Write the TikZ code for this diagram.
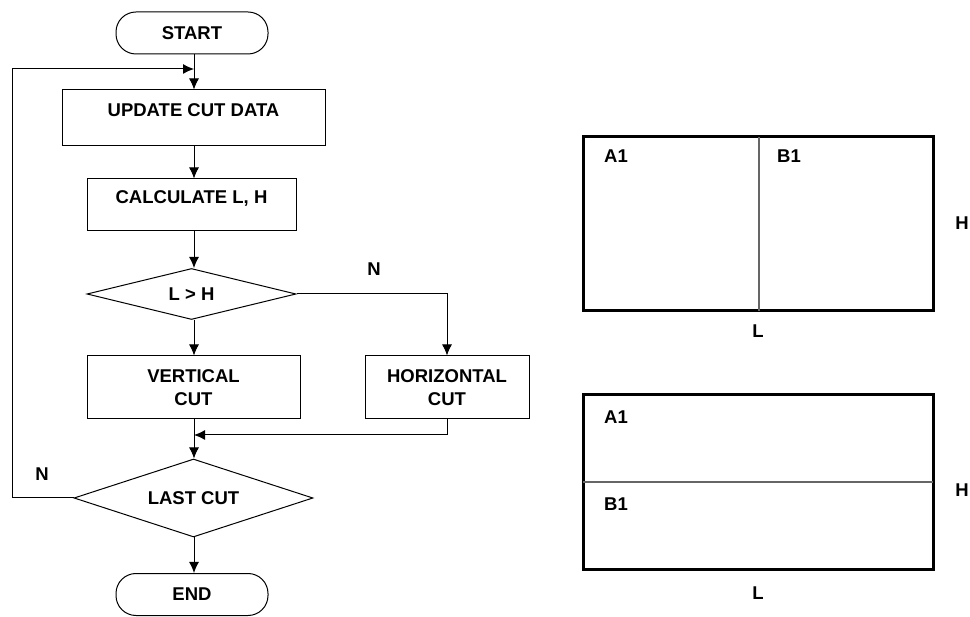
\documentclass[tikz,border=0pt]{standalone}
\usepackage{fontspec}
\setmainfont{Liberation Sans}
\usetikzlibrary{shapes.geometric,arrows.meta}
\begin{document}
\begin{tikzpicture}[x=1pt,y=-1pt,
  every node/.style={font=\fontsize{18.5}{23}\selectfont\bfseries},
  term/.style={draw,line width=1pt,rounded corners=20pt,minimum width=152pt,minimum height=42pt,inner sep=0pt},
  procbox/.style={draw,line width=1pt,inner sep=0pt,align=center},
  decide/.style={draw,line width=1pt,diamond,aspect=4,inner sep=0pt},
  flow/.style={line width=1pt,-{Latex[length=11pt,width=10pt]}},
  outer/.style={line width=3pt,black},
  divider/.style={line width=2pt,black!60},
  lbl/.style={inner sep=0pt}
]
\useasboundingbox (0,0) rectangle (970,617);
% flowchart
\node[term] (start) at (192,33) {START};
\node[procbox,minimum width=263pt,minimum height=56pt,label={[lbl,yshift=8pt]center:UPDATE CUT DATA}] (update) at (193.5,118) {};
\node[procbox,minimum width=209pt,minimum height=52pt,label={[lbl,yshift=7pt]center:CALCULATE L, H}] (calc) at (191.5,205) {};
\node[decide,minimum width=209pt,minimum height=51pt] (dec1) at (191.5,294) {L > H};
\node[procbox,minimum width=213pt,minimum height=63pt] (vert) at (193.5,387.5) {VERTICAL\\CUT};
\node[procbox,minimum width=164pt,minimum height=63pt] (horz) at (447,387.5) {HORIZONTAL\\CUT};
\node[decide,minimum width=239pt,minimum height=78pt] (dec2) at (193.5,498) {LAST CUT};
\node[term] (end) at (192,594.5) {END};
\node[lbl] (n1) at (374,269) {N};
\node[lbl] (n2) at (42,474) {N};
\coordinate (loopin) at (194,69);
\coordinate (loopc) at (12,69);
\coordinate (loopd) at (12,498);
\coordinate (merge) at (194,435);
\coordinate (mergec) at (447,435);
\coordinate (nturn) at (447,294);

\draw[flow] (start.south -| loopin) -- (loopin |- update.north);
\draw[flow] (update.south -| loopin) -- (loopin |- calc.north);
\draw[flow] (calc.south -| loopin) -- (loopin |- dec1.north);
\draw[flow] (dec1.south -| loopin) -- (loopin |- vert.north);
\draw[flow] (dec1.east) -- (nturn) -- (horz.north);
\draw[flow] (vert.south -| loopin) -- (loopin |- dec2.north);
\draw[flow] (horz.south) -- (mergec) -- (merge);
\draw[flow] (dec2.south -| loopin) -- (loopin |- end.north);
\draw[flow] (dec2.west) -- (loopd) -- (loopc) -- (loopin);

% right diagrams
\draw[outer] (583,137) rectangle (933,311);
\draw[divider] (759,137) -- (759,311);
\node[lbl] (a1t) at (616,156) {A1};
\node[lbl] (b1t) at (789,156) {B1};
\node[lbl] (ht) at (962,223) {H};
\node[lbl] (lt) at (758,331) {L};

\draw[outer] (583,395) rectangle (933,569);
\draw[divider] (583,482) -- (933,482);
\node[lbl] (a1b) at (616,417) {A1};
\node[lbl] (b1b) at (616,504) {B1};
\node[lbl] (hb) at (962,490) {H};
\node[lbl] (lb) at (758,593) {L};
\end{tikzpicture}
\end{document}
